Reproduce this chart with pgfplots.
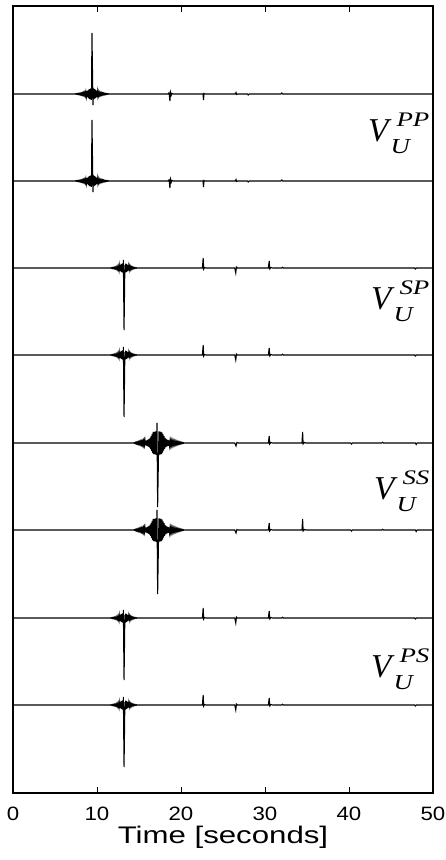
\documentclass[border=0pt]{standalone}
\usepackage{graphicx}
\usepackage{pgfplots}
\pgfplotsset{compat=1.18}
\usepackage{pgfplotstable}
\usepackage{fontspec}
\setmainfont{Liberation Sans}
\newfontfamily\timesf{Liberation Serif}

% PP traces (relative amplitude)
\pgfplotstableread[row sep=\\]{
x y\\
0 0\\ 7.40 0\\
7.45 0.2\\ 7.50 -0.22\\ 7.55 0.25\\ 7.60 -0.27\\ 7.65 0.3\\ 7.70 -0.32\\ 7.75 0.35\\ 7.80 -0.37\\ 7.85 0.4\\ 7.90 -0.42\\
7.95 0.45\\ 8.00 -0.48\\ 8.05 0.5\\ 8.10 -0.55\\ 8.15 0.6\\ 8.20 -0.65\\ 8.25 0.7\\ 8.30 -0.75\\ 8.35 0.8\\ 8.40 -0.85\\
8.45 0.95\\ 8.50 -1.1\\ 8.56 1.3\\ 8.62 -1.6\\ 8.68 1.9\\ 8.74 -2.3\\ 8.80 2.7\\ 8.86 -3.2\\ 8.92 3.7\\ 8.98 -4.2\\
9.04 4.6\\ 9.10 -5.0\\ 9.16 5.2\\ 9.22 -5.4\\ 9.28 5.6\\ 9.34 -5.8\\
9.40 61\\ 9.52 -11\\
9.56 5.5\\ 9.62 -5.3\\ 9.68 5.1\\ 9.74 -4.7\\ 9.80 4.3\\ 9.86 -3.9\\ 9.92 3.4\\ 9.98 -2.9\\ 10.04 2.5\\
10.10 -2.1\\ 10.16 1.8\\ 10.22 -1.5\\ 10.28 1.3\\ 10.34 -1.1\\ 10.40 0.95\\ 10.45 -0.85\\ 10.50 0.8\\ 10.55 -0.75\\ 10.60 0.7\\
10.65 -0.65\\ 10.70 0.6\\ 10.75 -0.55\\ 10.80 0.5\\ 10.85 -0.47\\ 10.90 0.44\\ 10.95 -0.4\\ 11.00 0.37\\ 11.05 -0.34\\ 11.10 0.3\\
11.15 -0.27\\ 11.20 0.25\\ 11.25 -0.22\\ 11.30 0.2\\ 11.35 -0.18\\ 11.40 0.15\\ 11.45 0\\
18.45 0\\ 18.58 1.2\\ 18.68 -7\\ 18.76 1.5\\ 18.84 -1.2\\ 18.92 0.6\\ 19.05 0\\
22.62 0\\ 22.68 -6\\ 22.74 0.5\\ 22.82 0\\
26.45 0\\ 26.55 1.5\\ 26.62 -0.5\\ 26.75 0\\
27.90 0\\ 28.00 -1\\ 28.10 0\\
31.90 0\\ 32.00 1\\ 32.10 0\\
50 0\\
}\pp

% SP / PS traces
\pgfplotstableread[row sep=\\]{
x y\\
0 0\\ 11.56 0\\
11.62 0.2\\ 11.68 -0.25\\ 11.74 0.3\\ 11.80 -0.35\\ 11.86 0.4\\ 11.92 -0.45\\ 11.98 0.5\\ 12.04 -0.55\\ 12.10 0.6\\ 12.16 -0.68\\
12.22 0.76\\ 12.28 -0.85\\ 12.34 0.95\\ 12.40 -1.05\\ 12.46 1.2\\ 12.52 -1.4\\ 12.58 1.65\\ 12.64 -2.0\\ 12.70 2.4\\ 12.76 -2.9\\
12.82 3.4\\ 12.88 -3.8\\ 12.94 4.1\\ 13.00 -4.33\\ 13.06 4.53\\ 13.10 -4.73\\
13.14 8\\ 13.22 -62\\ 13.32 3\\
13.36 -4.47\\ 13.42 4.27\\ 13.48 -4.07\\ 13.54 3.73\\ 13.60 -3.33\\ 13.66 2.93\\ 13.72 -2.53\\ 13.78 2.13\\ 13.84 -1.8\\
13.90 1.5\\ 13.96 -1.3\\ 14.02 1.1\\ 14.08 -0.95\\ 14.14 0.85\\ 14.20 -0.75\\ 14.26 0.65\\ 14.32 -0.57\\ 14.38 0.5\\ 14.44 -0.43\\
14.50 0.37\\ 14.56 -0.32\\ 14.62 0.27\\ 14.68 -0.22\\ 14.74 0.18\\ 14.80 -0.15\\ 14.86 0\\
22.55 0\\ 22.64 10\\ 22.70 -1\\ 22.80 0.5\\ 22.95 0\\
26.40 0\\ 26.52 -5\\ 26.60 1\\ 26.72 0\\
30.40 0\\ 30.50 7\\ 30.57 -1\\ 30.70 0.5\\ 30.90 0\\
32.00 0\\ 32.10 0.8\\ 32.20 0\\
47.80 0\\ 47.90 -1\\ 48.00 0\\
50 0\\
}\sp

% SS traces
\pgfplotstableread[row sep=\\]{
x y\\
0 0\\ 14.37 0\\
14.42 0.25\\ 14.47 -0.3\\ 14.52 0.35\\ 14.57 -0.4\\ 14.62 0.45\\ 14.67 -0.5\\ 14.72 0.55\\ 14.77 -0.6\\ 14.82 0.65\\ 14.87 -0.7\\
14.92 0.75\\ 14.97 -0.8\\ 15.02 0.85\\ 15.07 -0.9\\ 15.12 0.95\\ 15.17 -1.0\\ 15.22 1.05\\ 15.27 -1.1\\ 15.32 1.15\\ 15.37 -1.2\\
15.42 1.3\\ 15.47 -1.4\\ 15.52 1.5\\ 15.57 -1.6\\ 15.62 1.7\\ 15.67 -1.85\\ 15.72 2.0\\ 15.77 -2.15\\ 15.82 2.3\\ 15.87 -2.5\\
15.92 2.7\\ 15.97 -2.9\\ 16.02 3.1\\ 16.07 -3.35\\ 16.12 3.6\\ 16.17 -3.9\\ 16.22 4.2\\ 16.28 -4.6\\ 16.34 5.3\\ 16.40 -6.2\\
16.46 7.2\\ 16.52 -8.2\\ 16.58 9.2\\ 16.64 -10.1\\ 16.70 11.0\\ 16.76 -11.1\\ 16.82 11.2\\ 16.88 -11.4\\ 16.94 11.5\\ 17.00 -11.6\\
17.06 11.7\\ 17.10 -11.8\\
17.14 20\\ 17.22 -64\\ 17.32 -11.8\\
17.38 11.6\\ 17.44 -11.5\\ 17.50 11.4\\ 17.56 -11.3\\ 17.62 11.2\\ 17.68 -11.0\\ 17.74 10.4\\ 17.80 -9.5\\ 17.86 8.6\\
17.92 -7.7\\ 17.98 6.8\\ 18.04 -5.9\\ 18.10 5.0\\ 18.16 -4.4\\ 18.22 4.0\\ 18.28 -3.7\\ 18.34 3.4\\ 18.40 -3.2\\ 18.46 3.0\\
18.52 -2.8\\ 18.58 2.65\\ 18.64 -2.5\\ 18.70 2.35\\ 18.76 -2.2\\ 18.82 2.1\\ 18.88 -2.0\\ 18.94 1.9\\ 19.00 -1.8\\ 19.06 1.7\\
19.12 -1.6\\ 19.18 1.52\\ 19.24 -1.45\\ 19.30 1.38\\ 19.36 -1.3\\ 19.42 1.22\\ 19.48 -1.15\\ 19.54 1.08\\ 19.60 -1.0\\ 19.66 0.93\\
19.72 -0.86\\ 19.78 0.8\\ 19.84 -0.74\\ 19.90 0.68\\ 19.96 -0.62\\ 20.02 0.56\\ 20.08 -0.5\\ 20.14 0.44\\ 20.20 -0.38\\ 20.26 0.32\\
20.32 -0.26\\ 20.38 0\\
26.40 0\\ 26.55 -3\\ 26.65 0.5\\ 26.80 0\\
30.40 0\\ 30.50 7\\ 30.56 -1\\ 30.70 0.5\\ 30.90 0\\
34.40 0\\ 34.48 11\\ 34.54 -1\\ 34.70 0.5\\ 34.90 0\\
40.20 0\\ 40.30 -1\\ 40.40 0\\
43.90 0\\ 44.00 0.7\\ 44.10 0\\
47.90 0\\ 48.00 -1.5\\ 48.10 0\\
50 0\\
}\ss

\newcommand{\vlabel}[1]{{\timesf\itshape\fontsize{25}{25}\selectfont V\hspace{1.5pt}\raisebox{-8.5pt}{\rlap{\scalebox{1.25}[1]{\fontsize{16}{16}\selectfont U}}}\hspace{4.5pt}\raisebox{11.25pt}{\scalebox{1.3}[1]{\fontsize{15.5}{15.5}\selectfont #1}}}}

\begin{document}
\begin{tikzpicture}
\begin{axis}[
  scale only axis,
  width=315pt, height=590.25pt,
  xmin=0, xmax=50, ymin=0, ymax=787,
  ytick=\empty,
  xtick={0,10,20,30,40,50},
  tick align=inside,
  major tick length=4.5pt,
  axis line style={line width=0.9pt},
  every tick/.style={black, line width=0.6pt},
  tick label style={font=\fontsize{14.5}{14.5}\selectfont},
  xticklabel={\scalebox{1.15}[1]{\pgfmathprintnumber[assume math mode=true]{\tick}}},
  xticklabel style={yshift=-7pt},
  /pgf/number format/assume math mode=true,
  xlabel={\scalebox{1.3}[1]{Time [seconds]}},
  xlabel style={font=\fontsize{18}{18}\selectfont, at={(axis description cs:0.5,0)}, anchor=base, yshift=-38pt},
  clip=false,
]
\addplot[black, line width=0.8pt] table[y expr=\thisrow{y}+699] {\pp};
\addplot[black, line width=0.8pt] table[y expr=\thisrow{y}+612] {\pp};
\addplot[black, line width=0.8pt] table[y expr=\thisrow{y}+525] {\sp};
\addplot[black, line width=0.8pt] table[y expr=\thisrow{y}+438] {\sp};
\addplot[black, line width=0.8pt] table[y expr=\thisrow{y}+350] {\ss};
\addplot[black, line width=0.8pt] table[y expr=\thisrow{y}+263] {\ss};
\addplot[black, line width=0.8pt] table[y expr=\thisrow{y}+175] {\sp};
\addplot[black, line width=0.8pt] table[y expr=\thisrow{y}+88] {\sp};
\node[anchor=base east, inner sep=0pt] at (axis cs:49.6,651) {\vlabel{PP}};
\node[anchor=base east, inner sep=0pt] at (axis cs:49.6,483) {\vlabel{SP}};
\node[anchor=base east, inner sep=0pt] at (axis cs:49.6,293) {\vlabel{SS}};
\node[anchor=base east, inner sep=0pt] at (axis cs:49.6,115) {\vlabel{PS}};
\end{axis}
\pgfresetboundingbox
\path[use as bounding box] (-9.75pt,-50.25pt) rectangle (324.75pt,594.75pt);
\end{tikzpicture}
\end{document}
